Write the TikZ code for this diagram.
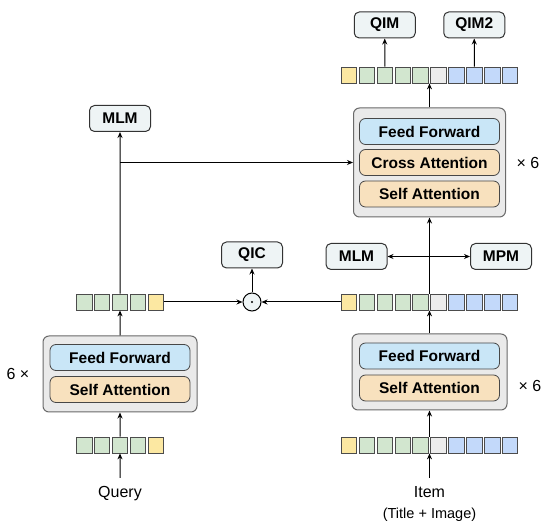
\documentclass[tikz,border=0pt]{standalone}
\usepackage{fontspec}
\setmainfont{Liberation Sans}
\usetikzlibrary{arrows.meta}
\definecolor{labfill}{HTML}{EEF4F5}
\definecolor{encfill}{HTML}{EAEAEA}
\definecolor{encline}{HTML}{6A6A6A}
\definecolor{fffill}{HTML}{C9E6F7}
\definecolor{attfill}{HTML}{F8E1BE}
\definecolor{tokgreen}{HTML}{D2E6CF}
\definecolor{tokyellow}{HTML}{FCE8A2}
\definecolor{tokgray}{HTML}{ECECEC}
\definecolor{tokblue}{HTML}{C3D9FA}
\begin{document}
\begin{tikzpicture}[x=1pt,y=1pt,>={Stealth[length=6pt,width=5pt]},line width=1pt,font=\fontsize{15.5}{18}\selectfont]

    \tikzset{
      head/.style={
        draw=black!80,
        fill=labfill,
        rounded corners=5pt,
        minimum width=61pt,
        minimum height=26pt,
        inner sep=2pt,
        font=\fontsize{15.5}{18}\selectfont\bfseries,
      },
      enc/.style={
        draw=encline,
        fill=encfill,
        rounded corners=6pt,
      },
      layer/.style={
        draw=black!72,
        rounded corners=6pt,
        minimum width=140pt,
        minimum height=26pt,
        line width=0.8pt,
        font=\fontsize{15.5}{18}\selectfont\bfseries,
      },
      ff/.style={layer, fill=fffill},
      att/.style={layer, fill=attfill},
      tok/.style={
        draw=black!70,
        minimum width=15.5pt,
        minimum height=16pt,
        inner sep=0pt,
        line width=0.8pt,
      },
      txt/.style={font=\fontsize{16}{19}\selectfont},
    }
    \useasboundingbox (0,0) rectangle (550,525);
	\node[enc, minimum width=154pt, minimum height=76pt] (encq) at (120,151) {};
	\node[ff] (ffq) at (120,167.5) {Feed Forward};
	\node[att] (saq) at (120,135.5) {Self Attention};
	\node[enc, minimum width=155pt, minimum height=76pt] (enci) at (429.5,153) {};
	\node[ff] (ffi) at (429.5,169) {Feed Forward};
	\node[att] (sai) at (429.5,137) {Self Attention};
	\node[enc, minimum width=152pt, minimum height=109pt] (dec) at (429.5,362.5) {};
	\node[ff] (ffd) at (429.5,393.5) {Feed Forward};
	\node[att] (ca) at (429.5,362.5) {Cross Attention};
	\node[att] (sad) at (429.5,331) {Self Attention};
	\foreach \c [count=\i] in {green,green,green,green,yellow}{
		\node[tok, fill=tok\c] (qb\i) at ({84.2+(\i-1)*17.9},80) {};
		\node[tok, fill=tok\c] (qm\i) at ({84.2+(\i-1)*17.9},223) {};
	}
	\foreach \c [count=\i] in {yellow,green,green,green,green,gray,blue,blue,blue,blue}{
		\node[tok, fill=tok\c] (ib\i) at ({348.95+(\i-1)*17.9},80) {};
		\node[tok, fill=tok\c] (im\i) at ({348.95+(\i-1)*17.9},223) {};
		\node[tok, fill=tok\c] (it\i) at ({348.95+(\i-1)*17.9},450) {};
	}
	\node[head] (qim) at (384.75,500) {QIM};
	\node[head] (qim2) at (474.25,500) {QIM2};
	\node[head] (mlmq) at (120,406.5) {MLM};
	\node[head] (qic) at (252,270) {QIC};
	\node[head] (mlmi) at (356.5,268.5) {MLM};
	\node[head] (mpm) at (501,268.5) {MPM};
	\node[draw, circle, fill=labfill, minimum size=18pt, inner sep=0pt] (dot) at (252,223) {};
	\fill (dot.center) circle (1.1pt);
	\node[txt] (dectimes) at (528,362) {× 6};
	\node[txt] (encitimes) at (530,139) {× 6};
	\node[txt] (encqtimes) at (18,151) {6 ×};
	\node[txt, anchor=north, inner ysep=8pt] (query) at (120,47) {Query};
	\node[txt, anchor=north, inner ysep=8pt, align=center] (item) at (429.5,47) {Item\\[1.5pt]{\fontsize{14.5}{17}\selectfont (Title + Image)}};
	\draw[->] (query.north) -- (qb3.south);
	\draw[->] (qb3.north) -- (encq.south);
	\draw[->] (encq.north) -- (qm3.south);
	\draw[->] (qm3.north) -- (mlmq.south);
	\draw[->] (mlmq.south |- ca.west) -- (dec.west |- ca.west);
	\draw[->] (qm5.east) -- (dot.west);
	\draw[->] (im1.west) -- (dot.east);
	\draw[->] (dot.north) -- (qic.south);
	\draw[->] (item.north) -- (item.north |- ib1.south);
	\draw[->] (enci.south |- ib1.north) -- (enci.south);
	\draw[->] (enci.north) -- (enci.north |- im1.south);
	\draw[->] (dec.south |- im1.north) -- (dec.south);
	\draw[<->] (mlmi.east) -- (mpm.west);
	\draw[->] (dec.north) -- (dec.north |- it1.south);
	\draw[->] (it3.north) -- (qim.south);
	\draw[->] (it8.north) -- (qim2.south);

\end{tikzpicture}
\end{document}
